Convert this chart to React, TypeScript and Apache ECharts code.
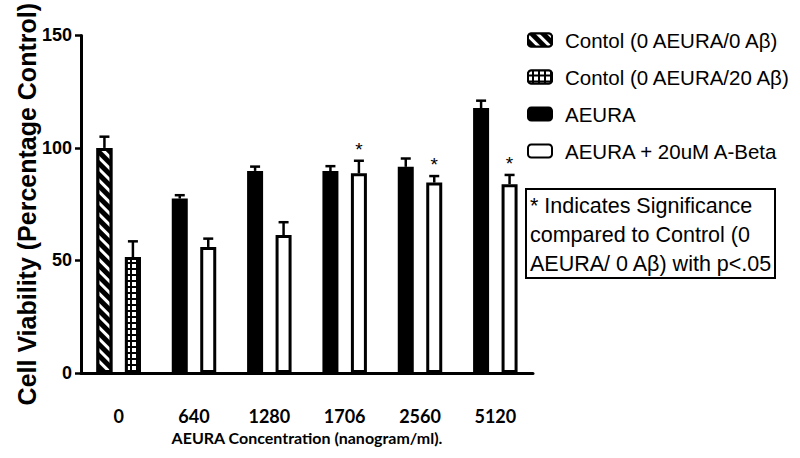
import React, { useEffect, useRef } from "react";
import * as echarts from "echarts";

const categories = ["0", "640", "1280", "1706", "2560", "5120"];
const control0 = [100, null, null, null, null, null];
const control0Err = [5, null, null, null, null, null];
const control20 = [51.5, null, null, null, null, null];
const control20Err = [7, null, null, null, null, null];
const aeura = [null, 77.5, 89.8, 89.7, 91.6, 117.7];
const aeuraErr = [null, 1.5, 1.9, 2.2, 3.7, 3.3];
const aeuraAbeta = [null, 56, 61.3, 88.7, 84.6, 83.9];
const aeuraAbetaErr = [null, 3.7, 5.7, 5.6, 2.9, 4.1];
const significant = [false, false, false, true, true, true];
const yTicks = { min: 0, max: 150, interval: 50 };

const names = [
  "Contol (0 AEURA/0 Aβ)",
  "Contol (0 AEURA/20 Aβ)",
  "AEURA",
  "AEURA + 20uM A-Beta",
];
const noteLines = [
  "* Indicates Significance",
  "compared to Control (0",
  "AEURA/ 0 Aβ) with p<.05",
];

const BAR_W = 16;
const GAP_RATIO = 0.78;
const OFFSET = (BAR_W * (1 + GAP_RATIO)) / 2;

const toBar = (arr: (number | null)[]) => arr.map((v) => (v == null ? "-" : v));

function errData(vals: (number | null)[], errs: (number | null)[], sig?: boolean[]) {
  const out: any[] = [];
  vals.forEach((v, i) => {
    if (v != null && errs[i] != null) out.push([i, v, errs[i], sig && sig[i] ? 1 : 0]);
  });
  return out;
}

function errSeries(data: any[], side: number) {
  return {
    type: "custom",
    z: 5,
    silent: true,
    data,
    encode: { x: 0, y: 1 },
    renderItem: (params: any, api: any) => {
      const cat = api.value(0);
      const v = api.value(1);
      const e = api.value(2);
      const s = api.value(3);
      const p0 = api.coord([cat, v]);
      const p1 = api.coord([cat, v + e]);
      const x = p0[0] + side * OFFSET;
      const children: any[] = [
        {
          type: "line",
          shape: { x1: x, y1: p0[1], x2: x, y2: p1[1] },
          style: { stroke: "#000", lineWidth: 2.5 },
        },
        {
          type: "line",
          shape: { x1: x - 5, y1: p1[1], x2: x + 5, y2: p1[1] },
          style: { stroke: "#000", lineWidth: 2.5 },
        },
      ];
      if (s) {
        children.push({
          type: "text",
          style: {
            text: "*",
            x: x,
            y: p1[1] - 2,
            align: "center",
            verticalAlign: "bottom",
            fontSize: 19,
            fontFamily: "Liberation Sans",
            fill: "#000",
          },
        });
      }
      return { type: "group", children };
    },
  };
}

export default function App() {
  const ref = useRef<HTMLDivElement>(null);
  useEffect(() => {
    document.body.style.margin = "0";
    if (!ref.current) return;
    const chart = echarts.init(ref.current, null, { renderer: "svg" });
    const border = { borderColor: "#000", borderWidth: 3 };
    chart.setOption({
      animation: false,
      backgroundColor: "#fff",
      grid: { left: 81, right: 267, top: 33, bottom: 85 },
      legend: {
        data: names,
        orient: "vertical",
        left: 522,
        top: 24,
        itemWidth: 24,
        itemHeight: 13,
        itemGap: 15,
        icon: "roundRect",
        textStyle: {
          fontSize: 20.5,
          lineHeight: 22,
          fontFamily: "Liberation Sans",
          color: "#000",
          padding: [0, 0, 0, 8],
        },
      },
      xAxis: {
        type: "category",
        data: categories,
        axisLine: { lineStyle: { color: "#000", width: 3 } },
        axisTick: { alignWithLabel: true, length: 9, lineStyle: { color: "#000", width: 3 } },
        axisLabel: {
          color: "#000",
          fontFamily: "Lato",
          fontWeight: "bold",
          fontSize: 18,
          margin: 34,
        },
        name: "AEURA Concentration (nanogram/ml).",
        nameLocation: "middle",
        nameGap: 56,
        nameMoveOverlap: false,
        nameTextStyle: {
          color: "#000",
          fontFamily: "Lato",
          fontWeight: "bold",
          fontSize: 16,
        },
      },
      yAxis: {
        type: "value",
        min: yTicks.min,
        max: yTicks.max,
        interval: yTicks.interval,
        splitLine: { show: false },
        axisLine: { show: true, lineStyle: { color: "#000", width: 3 } },
        axisTick: { show: true, length: 6, lineStyle: { color: "#000", width: 2.5 } },
        axisLabel: {
          color: "#000",
          fontFamily: "Liberation Sans",
          fontWeight: "bold",
          fontSize: 18,
          margin: 9,
        },
        name: "Cell Viability (Percentage Control)",
        nameLocation: "middle",
        nameRotate: 90,
        nameGap: 42,
        nameMoveOverlap: false,
        nameTextStyle: {
          color: "#000",
          fontFamily: "Liberation Sans",
          fontWeight: "bold",
          fontSize: 25,
        },
      },
      series: [
        {
          name: names[0],
          type: "bar",
          stack: "left",
          barWidth: BAR_W,
          barGap: GAP_RATIO * 100 + "%",
          data: toBar(control0),
          itemStyle: {
            color: "#000",
            ...border,
            decal: {
              symbol: "rect",
              color: "#fff",
              symbolSize: 1,
              dashArrayX: [1, 0],
              dashArrayY: [3, 5],
              rotation: Math.PI / 4,
            },
          },
        },
        {
          name: names[1],
          type: "bar",
          stack: "right",
          barWidth: BAR_W,
          barGap: GAP_RATIO * 100 + "%",
          data: toBar(control20),
          itemStyle: {
            color: "#000",
            ...border,
            decal: {
              symbol: "rect",
              color: "#fff",
              symbolSize: 1,
              dashArrayX: [4, 1.2],
              dashArrayY: [4, 1.2],
              rotation: 0,
            },
          },
        },
        {
          name: names[2],
          type: "bar",
          stack: "left",
          barWidth: BAR_W,
          barGap: GAP_RATIO * 100 + "%",
          data: toBar(aeura),
          itemStyle: { color: "#000", ...border },
        },
        {
          name: names[3],
          type: "bar",
          stack: "right",
          barWidth: BAR_W,
          barGap: GAP_RATIO * 100 + "%",
          data: toBar(aeuraAbeta),
          itemStyle: { color: "#fff", ...border },
        },
        errSeries(errData(control0, control0Err), -1),
        errSeries(errData(aeura, aeuraErr), -1),
        errSeries(errData(control20, control20Err), 1),
        errSeries(errData(aeuraAbeta, aeuraAbetaErr, significant), 1),
      ],
      graphic: [
        {
          type: "rect",
          shape: { x: 526, y: 189, width: 249, height: 89 },
          style: { fill: "#fff", stroke: "#000", lineWidth: 2 },
        },
        {
          type: "text",
          x: 530,
          y: 191,
          style: {
            text: noteLines.join("\n"),
            fontSize: 21.5,
            lineHeight: 29,
            fontFamily: "Liberation Sans",
            fill: "#000",
          },
        },
      ],
    });
    return () => chart.dispose();
  }, []);
  return <div ref={ref} style={{ width: 800, height: 458 }} />;
}
